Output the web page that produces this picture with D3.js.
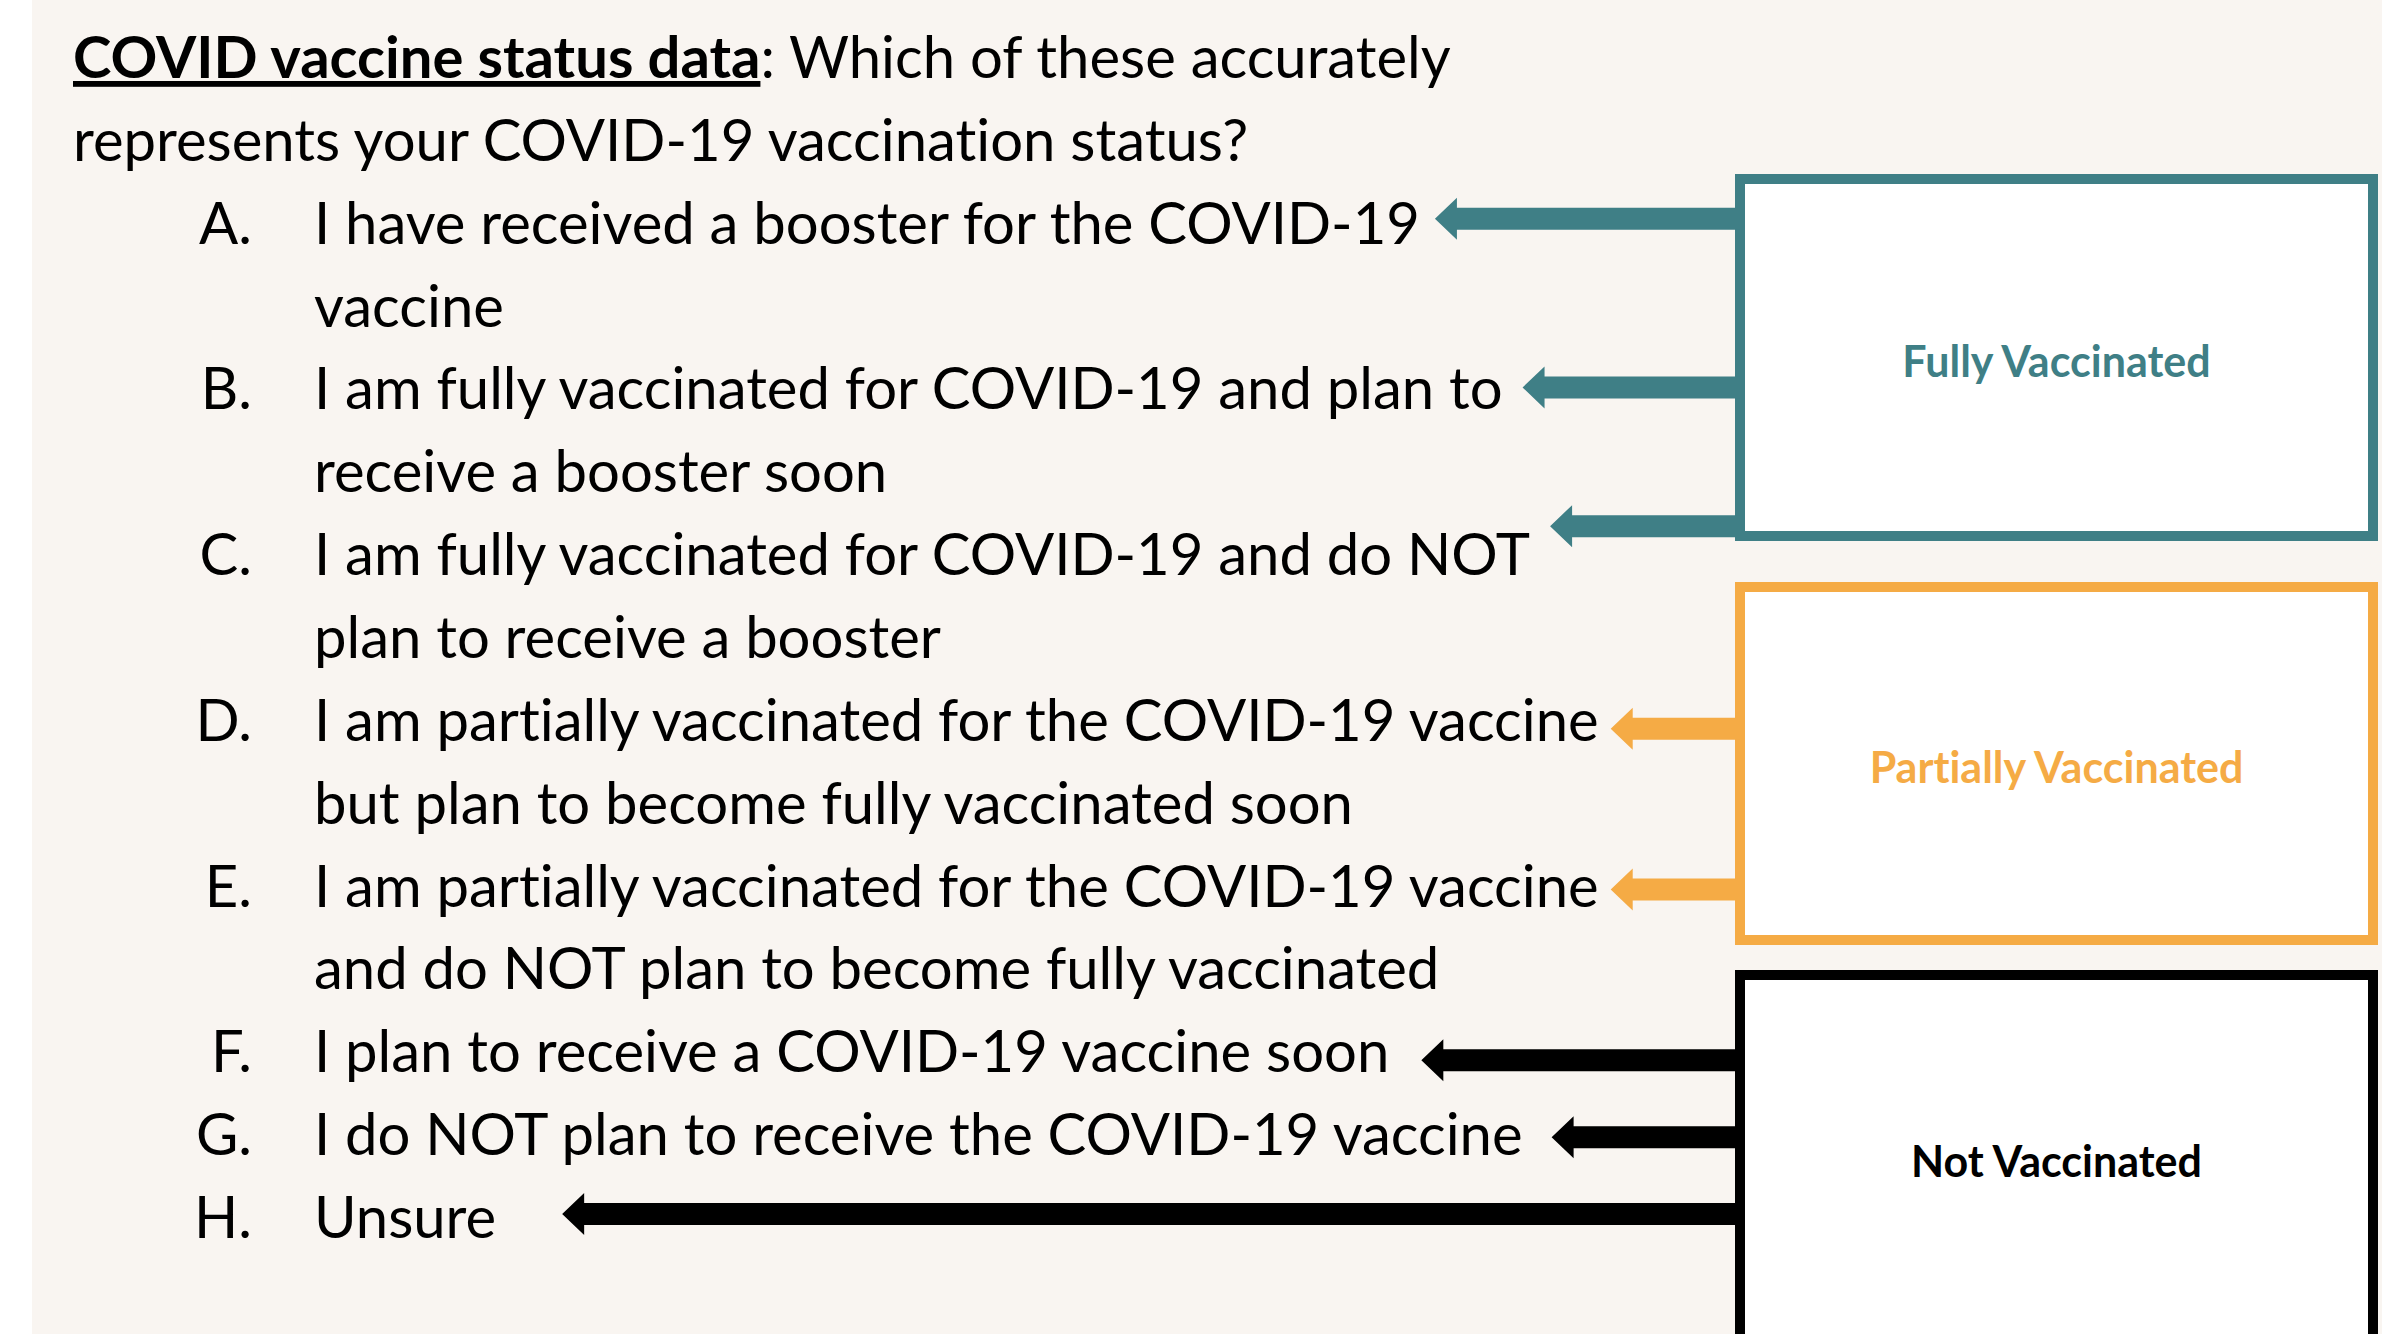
<!DOCTYPE html>
<html>
<head>
<meta charset="utf-8">
<script src="https://cdn.jsdelivr.net/npm/d3@7"></script>
<style>
  html, body { margin: 0; padding: 0; background: #ffffff; }
  svg { display: block; }
  text { font-variant-ligatures: none; }
</style>
</head>
<body>
<div id="chart"></div>
<script>
var width = 2382;
var height = 1334;

// question text
var titleBold = "COVID vaccine status data";
var titleRest = ": Which of these accurately";
var titleLine2 = "represents your COVID-19 vaccination status?";

// answer options
var letters = ["A.", "B.", "C.", "D.", "E.", "F.", "G.", "H."];
var optionLines = [
  ["I have received a booster for the COVID-19", "vaccine"],
  ["I am fully vaccinated for COVID-19 and plan to", "receive a booster soon"],
  ["I am fully vaccinated for COVID-19 and do NOT", "plan to receive a booster"],
  ["I am partially vaccinated for the COVID-19 vaccine", "but plan to become fully vaccinated soon"],
  ["I am partially vaccinated for the COVID-19 vaccine", "and do NOT plan to become fully vaccinated"],
  ["I plan to receive a COVID-19 vaccine soon"],
  ["I do NOT plan to receive the COVID-19 vaccine"],
  ["Unsure"]
];
// which status group each option maps to
var optionGroup = ["Fully Vaccinated", "Fully Vaccinated", "Fully Vaccinated",
                   "Partially Vaccinated", "Partially Vaccinated",
                   "Not Vaccinated", "Not Vaccinated", "Not Vaccinated"];

var groups = ["Fully Vaccinated", "Partially Vaccinated", "Not Vaccinated"];
var groupColors = ["#3f7f86", "#f5ab45", "#000000"];

// layout bits (not data)
var arrowOffset = [-25, -22, -49, -12, -17, -12, -18, -24]; // arrow y relative to line baseline
var arrowGap = [15, 20, 20, 12, 12, 32, 29, 66];           // space between text end and arrow tip
var boxLayout = [
  {top: 179, bottom: 536},
  {top: 587, bottom: 940},
  {top: 975, bottom: 1340}
];
var boxLeft = 1740, boxRight = 2373;

var color = d3.scaleOrdinal().domain(groups).range(groupColors);

// one line of text every ~83px
var y = d3.scaleLinear().domain([0, 14]).range([78, 1238]);

var font = "Lato, 'Open Sans', sans-serif";
var fontSize = 58;

var svg = d3.select("#chart")
    .append("svg")
    .attr("width", width)
    .attr("height", height);

// slide background (white strip on the left)
svg.append("rect")
    .attr("x", 32)
    .attr("y", 0)
    .attr("width", width - 32)
    .attr("height", height)
    .attr("fill", "#f9f5f1");

// title
var title = svg.append("text")
    .attr("x", 73)
    .attr("y", y(0))
    .style("font-family", font)
    .style("font-size", fontSize + "px")
    .attr("fill", "#000");
title.append("tspan")
    .style("font-weight", "bold")
    .style("text-decoration", "underline")
    .text(titleBold);
title.append("tspan").text(titleRest);

svg.append("text")
    .attr("x", 73)
    .attr("y", y(1))
    .style("font-family", font)
    .style("font-size", fontSize + "px")
    .attr("fill", "#000")
    .text(titleLine2);

// build rows: each option starts at a line index
var rows = [];
var lineIdx = 2;
letters.forEach(function(l, i) {
  rows.push({letter: l, lines: optionLines[i], start: lineIdx, group: optionGroup[i], i: i});
  lineIdx += optionLines[i].length;
});

var opt = svg.append("g").attr("class", "options")
    .selectAll("g")
    .data(rows)
    .enter().append("g");

opt.append("text")
    .attr("x", 252)
    .attr("y", function(d) { return y(d.start); })
    .attr("text-anchor", "end")
    .style("font-family", font)
    .style("font-size", fontSize + "px")
    .attr("fill", "#000")
    .text(function(d) { return d.letter; });

opt.each(function(d) {
  var g = d3.select(this);
  d.lines.forEach(function(line, k) {
    var t = g.append("text")
        .attr("x", 314)
        .attr("y", y(d.start + k))
        .style("font-family", font)
        .style("font-size", fontSize + "px")
        .attr("fill", "#000")
        .text(line);
    if (k == 0) d.textEnd = 314 + t.node().getComputedTextLength();
  });
});

// status boxes
var boxes = svg.append("g").attr("class", "boxes")
    .selectAll("g")
    .data(groups)
    .enter().append("g");

boxes.append("rect")
    .attr("x", boxLeft)
    .attr("y", function(d, i) { return boxLayout[i].top; })
    .attr("width", boxRight - boxLeft)
    .attr("height", function(d, i) { return boxLayout[i].bottom - boxLayout[i].top; })
    .attr("fill", "#ffffff")
    .attr("stroke", function(d) { return color(d); })
    .attr("stroke-width", 10);

boxes.append("text")
    .attr("x", (boxLeft + boxRight) / 2)
    .attr("y", function(d, i) { return (boxLayout[i].top + boxLayout[i].bottom) / 2 + 3; })
    .attr("text-anchor", "middle")
    .attr("dominant-baseline", "central")
    .style("font-family", font)
    .style("font-size", "43px")
    .style("font-weight", "bold")
    .attr("fill", function(d) { return color(d); })
    .text(function(d) { return d; });

// arrows from the boxes back to each option
var shaft = 11, headH = 21, headL = 22;
function arrowPath(d) {
  var tip = d.textEnd + arrowGap[d.i];
  var ay = y(d.start) + arrowOffset[d.i];
  var x2 = boxLeft;
  return "M" + tip + "," + ay +
    "L" + (tip + headL) + "," + (ay - headH) +
    "L" + (tip + headL) + "," + (ay - shaft) +
    "L" + x2 + "," + (ay - shaft) +
    "L" + x2 + "," + (ay + shaft) +
    "L" + (tip + headL) + "," + (ay + shaft) +
    "L" + (tip + headL) + "," + (ay + headH) + "Z";
}

svg.append("g").attr("class", "arrows")
    .selectAll("path")
    .data(rows)
    .enter().append("path")
    .attr("d", arrowPath)
    .attr("fill", function(d) { return color(d.group); });

// redraw box left edges on top of arrow ends
boxes.append("line")
    .attr("x1", boxLeft)
    .attr("x2", boxLeft)
    .attr("y1", function(d, i) { return boxLayout[i].top - 5; })
    .attr("y2", function(d, i) { return boxLayout[i].bottom + 5; })
    .attr("stroke", function(d) { return color(d); })
    .attr("stroke-width", 10);
</script>
</body>
</html>
